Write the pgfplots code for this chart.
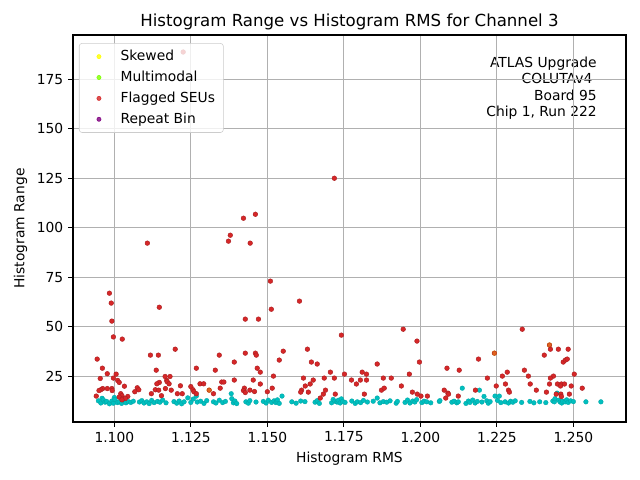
\documentclass[border=0pt]{standalone}
\usepackage{fontspec}
\setmainfont{DejaVu Sans}
\usepackage{pgfplots}
\usepackage{pgfplotstable}
\pgfplotsset{compat=1.18}
\definecolor{mplcyan}{RGB}{0,191,191}
\definecolor{tabred}{RGB}{214,39,40}
\definecolor{tabreddark}{RGB}{170,30,32}
\definecolor{gridgray}{RGB}{176,176,176}
\definecolor{mplchart}{RGB}{127,255,0}
\definecolor{mplpurple}{RGB}{128,0,128}
\definecolor{mplyellow}{RGB}{255,255,0}

\pgfplotstableread{
x y
1.0948 12.5
1.0956 11.4
1.0960 13.8
1.0964 13.0
1.0970 11.8
1.0975 12.2
1.0984 11.0
1.0992 12.4
1.0997 11.3
1.1000 14.2
1.1002 13.2
1.1010 11.6
1.1016 12.0
1.1024 11.2
1.1029 12.8
1.1038 11.5
1.1046 12.1
1.1054 11.7
1.1062 12.3
1.1082 11.9
1.1090 12.6
1.1097 11.4
1.1106 12.0
1.1114 11.1
1.1122 12.7
1.1130 11.6
1.1141 12.2
1.1149 11.8
1.1158 12.9
1.1169 11.5
1.1195 12.1
1.1204 11.3
1.1212 12.4
1.1220 11.0
1.1228 12.0
1.1240 14.0
1.1250 11.7
1.1258 13.4
1.1268 14.9
1.1271 11.9
1.1282 12.3
1.1293 11.2
1.1302 12.6
1.1324 12.0
1.1332 11.4
1.1343 12.8
1.1354 11.6
1.1363 12.2
1.1382 16.1
1.1384 13.6
1.1389 11.5
1.1394 12.4
1.1400 11.1
1.1430 12.0
1.1438 11.3
1.1443 12.6
1.1463 11.9
1.1487 12.2
1.1496 11.4
1.1503 12.8
1.1514 11.7
1.1522 12.5
1.1528 11.6
1.1531 12.3
1.1533 13.0
1.1539 11.2
1.1548 14.9
1.1580 12.0
1.1594 11.3
1.1609 12.4
1.1623 12.1
1.1656 11.8
1.1663 12.6
1.1670 11.2
1.1710 11.5
1.1715 13.2
1.1721 12.3
1.1727 11.9
1.1729 12.0
1.1732 12.8
1.1738 11.4
1.1742 13.5
1.1746 12.2
1.1754 11.7
1.1776 12.4
1.1787 11.2
1.1794 12.0
1.1805 11.6
1.1814 12.7
1.1827 11.9
1.1846 12.3
1.1859 13.9
1.1868 11.5
1.1879 12.1
1.1890 11.8
1.1901 12.5
1.1921 11.3
1.1925 12.2
1.1950 11.7
1.1958 12.9
1.1966 11.4
1.1975 12.4
1.1982 11.9
1.1988 13.1
1.2005 11.6
1.2012 12.3
1.2021 12.0
1.2034 11.5
1.2062 12.2
1.2064 12.6
1.2103 11.8
1.2110 12.3
1.2119 11.5
1.2124 12.0
1.2137 18.9
1.2149 11.2
1.2157 12.4
1.2162 11.7
1.2171 12.9
1.2179 11.4
1.2186 12.2
1.2193 17.9
1.2201 11.9
1.2208 14.7
1.2217 12.5
1.2222 11.3
1.2228 12.1
1.2244 14.9
1.2252 12.7
1.2258 14.9
1.2263 11.6
1.2277 12.0
1.2288 11.4
1.2295 12.3
1.2302 11.8
1.2310 12.5
1.2331 11.7
1.2358 12.2
1.2371 11.5
1.2390 12.0
1.2410 11.6
1.2433 12.4
1.2438 12.0
1.2440 13.6
1.2447 16.4
1.2452 12.8
1.2457 11.9
1.2462 11.4
1.2465 12.3
1.2473 12.0
1.2478 13.0
1.2483 11.7
1.2491 12.5
1.2500 12.1
1.2541 12.0
1.2590 12.0
}\normaltable

\pgfplotstableread{
x y
1.1225 188.8
1.1719 125.0
1.1422 104.8
1.1461 106.8
1.1379 96.2
1.1373 93.2
1.1444 92.2
1.1108 92.2
1.1510 73.0
1.0984 66.9
1.0990 61.9
1.1147 59.8
1.0992 52.8
1.1605 62.9
1.1513 58.8
1.1428 53.8
1.1471 53.8
1.1944 48.7
1.2333 48.7
1.0997 44.8
1.1026 43.7
1.0944 33.6
1.0961 29.0
1.0977 26.2
1.0954 23.8
1.0997 24.0
1.1006 26.0
1.1011 22.8
1.1016 21.8
1.1033 19.9
1.0962 18.7
1.0956 18.1
1.0950 17.7
1.0977 18.7
1.0992 18.7
1.0993 17.7
1.0941 14.9
1.1021 16.1
1.1025 15.1
1.1016 14.4
1.1027 13.7
1.1044 14.7
1.1036 13.7
1.1025 13.0
1.1118 35.6
1.1144 35.6
1.1137 28.0
1.1199 38.6
1.1166 24.8
1.1182 24.8
1.1171 22.8
1.1173 22.1
1.1147 21.8
1.1139 21.1
1.1134 18.1
1.1145 17.9
1.1179 21.1
1.1167 18.7
1.1186 17.9
1.1216 20.1
1.1206 16.1
1.1222 16.1
1.1075 19.1
1.1080 18.1
1.1067 17.1
1.1121 16.1
1.1154 15.1
1.1250 19.7
1.1257 18.1
1.1260 17.1
1.1268 16.1
1.1280 21.1
1.1292 21.1
1.1268 29.0
1.1343 35.6
1.1330 28.0
1.1351 22.0
1.1358 22.0
1.1346 18.9
1.1324 16.1
1.1392 32.1
1.1392 23.0
1.1428 36.6
1.1461 36.6
1.1464 35.6
1.1467 29.0
1.1477 27.0
1.1454 23.0
1.1477 21.0
1.1425 18.9
1.1422 17.7
1.1428 16.7
1.1443 17.9
1.1458 17.2
1.1500 17.1
1.1520 25.0
1.1516 18.9
1.1539 33.1
1.1552 37.6
1.1631 38.6
1.1644 32.1
1.1663 31.1
1.1742 45.7
1.1618 24.0
1.1650 23.0
1.1640 21.0
1.1624 20.0
1.1612 17.9
1.1609 16.9
1.1634 16.9
1.1686 24.0
1.1706 27.0
1.1719 24.0
1.1690 17.9
1.1683 15.9
1.1673 13.9
1.1722 15.9
1.1752 26.0
1.1775 23.0
1.1791 21.0
1.1804 23.0
1.1810 27.0
1.1824 26.0
1.1824 23.0
1.1817 15.9
1.1859 31.1
1.1873 17.9
1.1882 18.9
1.1879 24.0
1.1905 24.0
1.1989 42.7
1.1997 32.1
1.1964 26.0
1.1938 20.0
1.1974 16.9
1.1990 15.9
1.2002 14.9
1.2023 14.9
1.2078 17.9
1.2083 13.9
1.2090 16.4
1.2087 29.0
1.2127 28.0
1.2092 15.9
1.2180 17.9
1.2124 14.9
1.2190 33.6
1.2219 24.0
1.2248 20.0
1.2268 25.0
1.2284 27.0
1.2278 21.0
1.2288 17.9
1.2291 16.9
1.2340 28.0
1.2353 25.0
1.2359 21.0
1.2379 17.9
1.2405 35.6
1.2425 38.6
1.2451 38.6
1.2467 32.1
1.2474 33.1
1.2480 33.6
1.2483 38.6
1.2503 26.0
1.2435 25.0
1.2425 24.0
1.2422 21.0
1.2448 21.0
1.2461 21.0
1.2471 21.0
1.2458 20.0
1.2412 16.9
1.2444 15.9
1.2459 15.9
1.2461 14.7
1.2493 20.0
1.2487 15.9
1.2529 18.9
}\flaggedtable

\pgfplotstableread{
x y
1.1310 17.9
1.2242 36.6
1.2422 40.7
}\skewedtable

\begin{document}
\begin{tikzpicture}
\path[use as bounding box] (-0.73in,-0.58in) rectangle (5.67in,4.22in);
\begin{axis}[
  at={(0,0)}, anchor=south west,
  scale only axis, width=5.53in, height=3.87in,
  xmin=1.0865, xmax=1.2672, ymin=1.8, ymax=197.4,
  axis on top,
  grid=major, grid style={gridgray, line width=0.8pt},
  axis line style={line width=0.8pt},
  tick align=outside, xtick pos=left, ytick pos=left,
  major tick length=3.5pt,
  every tick/.style={black, line width=0.8pt},
  xtick={1.100,1.125,1.150,1.175,1.200,1.225,1.250},
  ytick={25,50,75,100,125,150,175},
  xticklabel style={/pgf/number format/.cd,fixed,fixed zerofill,precision=3},
  /pgf/number format/assume math mode=true,
  tick label style={font=\fontsize{10}{12}\selectfont},
  label style={font=\fontsize{10}{12}\selectfont},
  title style={font=\fontsize{12}{14}\selectfont, yshift=-5.8pt},
  title={Histogram Range vs Histogram RMS for Channel 3},
  xlabel={Histogram RMS}, ylabel={Histogram Range},
  legend style={at={(0.0108,0.979)}, anchor=north west,
    draw=black!20, fill=white, fill opacity=0.8, text opacity=1, draw opacity=1,
    rounded corners=2pt, font=\fontsize{10}{12}\selectfont,
    row sep=2pt, inner xsep=4pt, inner ysep=3pt},
  legend cell align=left,
  legend image code/.code={\path[draw=none,fill=none] (0cm,0cm) -- (0.84cm,0cm); \draw[#1] plot coordinates {(0.36cm,0cm)};},
]
\addplot[only marks, mark=*, mark size=1.7pt, mark options={fill=mplcyan, draw=mplcyan!85!black, line width=0.2pt}, forget plot] table {\normaltable};
\addplot[only marks, mark=*, mark size=1.7pt, mark options={fill=mplyellow, draw=mplyellow, line width=0.2pt}, forget plot] table {\skewedtable};
\addplot[only marks, mark=*, mark size=1.7pt, mark options={fill=tabred, draw=tabreddark, line width=0.3pt}, forget plot] table {\flaggedtable};
\addplot[only marks, mark=*, mark size=1.7pt, mark options={fill=tabred, draw=tabreddark, line width=0.3pt, fill opacity=0.72}, forget plot] table {\skewedtable};
\addlegendimage{only marks, mark=*, mark size=1.5pt, mark options={fill=mplyellow, draw=mplyellow}}
\addlegendentry{Skewed}
\addlegendimage{only marks, mark=*, mark size=1.5pt, mark options={fill=mplchart, draw=mplchart}}
\addlegendentry{Multimodal}
\addlegendimage{only marks, mark=*, mark size=1.5pt, mark options={fill=tabred, draw=tabred}}
\addlegendentry{Flagged SEUs}
\addlegendimage{only marks, mark=*, mark size=1.5pt, mark options={fill=mplpurple, draw=mplpurple}}
\addlegendentry{Repeat Bin}
\node[anchor=north east, align=right, inner sep=0pt, font=\fontsize{10}{12}\selectfont]
  at (rel axis cs:0.9476,0.945) {ATLAS Upgrade\\COLUTAv4\kern3.2pt\\Board 95\\Chip 1, Run 222};
\end{axis}
\end{tikzpicture}
\end{document}
